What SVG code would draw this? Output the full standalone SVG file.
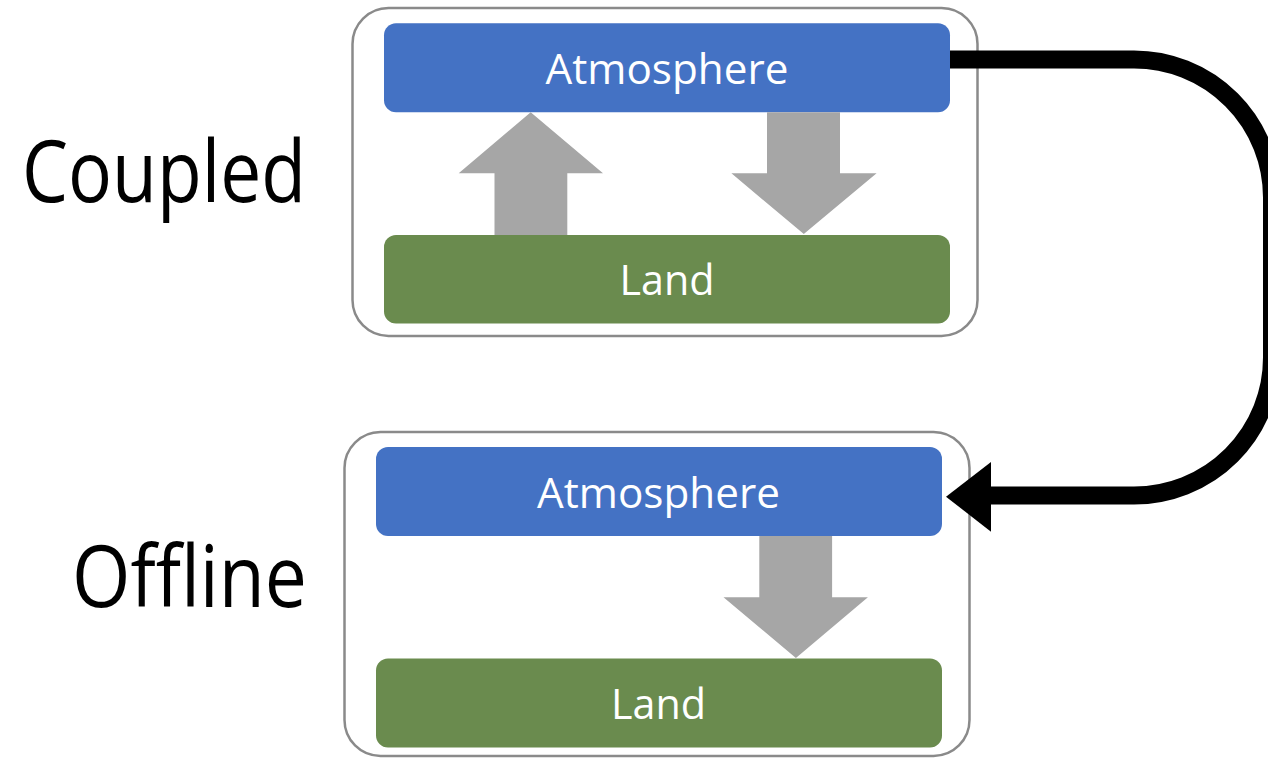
<svg xmlns="http://www.w3.org/2000/svg" width="1268" height="759" viewBox="0 0 1268 759">
<style>
.frame{fill:#fff;stroke:#8a8a8a;stroke-width:2.5}
.atm{fill:#4472C4}
.land{fill:#6A8B4E}
.flow{fill:#A6A6A6}
.lbl{font-family:"Open Sans","Noto Sans",sans-serif;fill:#fff;font-size:42px;text-anchor:middle}
.side{font-family:"Open Sans","Noto Sans",sans-serif;fill:#000;font-size:86px}
</style>
<rect width="1268" height="759" fill="#fff"/>
<g id="label-coupled"><text class="side" x="22" y="202" textLength="284" lengthAdjust="spacingAndGlyphs">Coupled</text></g>
<g id="label-offline"><text class="side" x="72" y="607" textLength="235" lengthAdjust="spacingAndGlyphs">Offline</text></g>
<g id="coupled">
<rect class="frame" x="352.5" y="8" width="625" height="328" rx="36"/>
<g id="coupled-atmosphere"><rect class="atm" x="384" y="23.3" width="566" height="89" rx="12"/><text class="lbl" x="667" y="83.5" textLength="243" lengthAdjust="spacingAndGlyphs">Atmosphere</text></g>
<g id="coupled-land"><rect class="land" x="384" y="235" width="566" height="88.5" rx="12"/><text class="lbl" x="667" y="294.5" textLength="95" lengthAdjust="spacingAndGlyphs">Land</text></g>
</g>
<g id="offline">
<rect class="frame" x="344.5" y="432" width="625" height="324" rx="36"/>
<g id="offline-atmosphere"><rect class="atm" x="376" y="447" width="566" height="89" rx="12"/><text class="lbl" x="658.5" y="507.5" textLength="243" lengthAdjust="spacingAndGlyphs">Atmosphere</text></g>
<g id="offline-land"><rect class="land" x="376" y="658.5" width="566" height="89" rx="12"/><text class="lbl" x="658.5" y="718.5" textLength="95" lengthAdjust="spacingAndGlyphs">Land</text></g>
</g>
<g id="connectors">
<polygon class="flow" points="494.5,235 494.5,173.3 458.7,173.3 530.7,112.3 603,173.3 567.3,173.3 567.3,235"/>
<polygon class="flow" points="767,112.3 767,173.3 731.4,173.3 803.8,234 876.6,173.3 840,173.3 840,112.3"/>
<polygon class="flow" points="759.3,536 759.3,597.3 723.5,597.3 795.9,658 867.9,597.3 832.1,597.3 832.1,536"/>
<path d="M950 59.5 H1134 A138 138 0 0 1 1272 197.5 V357.5 A138 138 0 0 1 1134 495.5 H985" fill="none" stroke="#000" stroke-width="18"/>
<polygon points="946,496.7 991,462 991,531.7" fill="#000"/>
</g>
</svg>
